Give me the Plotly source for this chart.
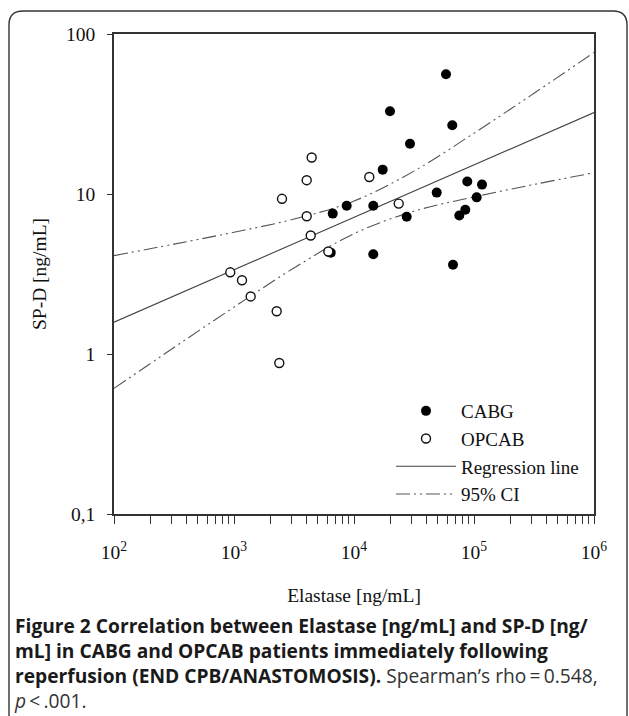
import plotly.graph_objects as go

# ---- data ----
cabg_elastase = [6400, 6650, 8690, 14480, 14480, 17340, 19950, 27490, 29290,
                 48880, 58440, 65930, 66830, 75440, 84630, 87900, 105300, 116600]
cabg_spd = [4.30, 7.54, 8.44, 8.44, 4.20, 14.2, 32.9, 7.20, 20.6,
            10.2, 56.0, 26.9, 3.61, 7.33, 7.97, 11.96, 9.53, 11.45]

opcab_elastase = [931, 1166, 1377, 2268, 2385, 2512, 4036, 4440, 4036,
                  4357, 6109, 13410, 23580]
opcab_spd = [3.24, 2.89, 2.29, 1.85, 0.879, 9.33, 12.2, 16.9, 7.26,
             5.50, 4.37, 12.77, 8.71]

reg_x = [100, 1000000]
reg_y = [1.58, 32.3]

ci_x = [100, 316, 1000, 3162, 10000, 31623, 100000, 316228, 1000000]
ci_upper = [4.12, 4.86, 5.77, 6.97, 9.04, 13.9, 24.0, 42.6, 76.7]
ci_lower = [0.610, 1.098, 1.963, 3.45, 5.65, 7.81, 9.59, 11.47, 13.58]

x_tickvals = [1e2, 1e3, 1e4, 1e5, 1e6]
x_ticktext = ["10<sup>2</sup>", "10<sup>3</sup>", "10<sup>4</sup>", "10<sup>5</sup>", "10<sup>6</sup>"]
y_tickvals = [0.1, 1, 10, 100]
y_ticktext = ["0,1", "1", "10", "100"]

# ---- layout geometry (pixels) ----
W, H = 629, 716
L, R, T, B = 114, 35, 34, 202
PW = W - L - R
PH = H - T - B


def px_x(px):
    return (px - L) / PW


def px_y(py):
    return (H - B - py) / PH


SERIF = "Liberation Serif, Times New Roman, serif"
SANS = "Open Sans, sans-serif"
FS = 19.5
DASH = "14px,4px,2px,4px,2px,4px"

fig = go.Figure()

fig.add_trace(go.Scatter(
    x=ci_x, y=ci_upper, mode="lines", name="95% CI", legendgroup="ci",
    line=dict(color="#555555", width=1.1, dash=DASH, shape="spline"),
    legendrank=4, showlegend=True))
fig.add_trace(go.Scatter(
    x=ci_x, y=ci_lower, mode="lines", name="95% CI", legendgroup="ci",
    line=dict(color="#555555", width=1.1, dash=DASH, shape="spline"),
    showlegend=False))
fig.add_trace(go.Scatter(
    x=reg_x, y=reg_y, mode="lines", name="Regression line",
    line=dict(color="#444444", width=1.1), legendrank=3))
fig.add_trace(go.Scatter(
    x=cabg_elastase, y=cabg_spd, mode="markers", name="CABG",
    marker=dict(symbol="circle", size=10, color="black", line=dict(width=0)),
    legendrank=1))
fig.add_trace(go.Scatter(
    x=opcab_elastase, y=opcab_spd, mode="markers", name="OPCAB",
    marker=dict(symbol="circle", size=9, color="white",
                line=dict(width=1.4, color="#111111")),
    legendrank=2))

axis_common = dict(
    showline=True, linecolor="#333333", linewidth=1.5, mirror=True,
    showgrid=False, zeroline=False, ticks="outside", tickcolor="#333333",
    tickwidth=1.2, tickfont=dict(family=SERIF, size=FS, color="#111111"),
)

fig.update_xaxes(
    type="log", range=[2, 6], tickmode="array", tickvals=x_tickvals,
    ticktext=x_ticktext, ticklen=8, ticklabelstandoff=12,
    minor=dict(dtick="D1", ticks="outside", ticklen=8, tickcolor="#333333",
               tickwidth=1.2, showgrid=False),
    title=dict(text="Elastase [ng/mL]", font=dict(family=SERIF, size=FS, color="#111111"),
               standoff=26),
    **axis_common)
fig.update_yaxes(
    type="log", range=[-1, 2], tickmode="array", tickvals=y_tickvals,
    ticktext=y_ticktext, ticklen=5, ticklabelstandoff=8,
    title=dict(text="SP-D [ng/mL]", font=dict(family=SERIF, size=FS, color="#111111"),
               standoff=14),
    **axis_common)

# outer rounded frame
r = 14
x0, x1, y0, y1 = 9, 627, 11, 740
path = (
    f"M {px_x(x0)},{px_y(y1)} "
    f"L {px_x(x0)},{px_y(y0 + r)} "
    f"Q {px_x(x0)},{px_y(y0)} {px_x(x0 + r)},{px_y(y0)} "
    f"L {px_x(x1 - r)},{px_y(y0)} "
    f"Q {px_x(x1)},{px_y(y0)} {px_x(x1)},{px_y(y0 + r)} "
    f"L {px_x(x1)},{px_y(y1)}"
)
fig.add_shape(type="path", path=path, xref="paper", yref="paper",
              line=dict(color="#333333", width=1.4), layer="below")

caption = (
    "<b>Figure 2 Correlation between Elastase [ng/mL] and SP-D [ng/</b><br>"
    "<b>mL] in CABG and OPCAB patients immediately following</b><br>"
    "<b>reperfusion (END CPB/ANASTOMOSIS).</b> "
    "<span style='color:#333333'>Spearman\u2019s rho\u2009=\u20090.548,</span><br>"
    "<span style='color:#333333'><i>p</i>\u2009<\u2009.001.</span>"
)
fig.add_annotation(text=caption, xref="paper", yref="paper", x=px_x(13), y=px_y(611),
                   xanchor="left", yanchor="top", align="left", showarrow=False,
                   borderpad=0, font=dict(family=SANS, size=19.2, color="#1a1a1a"))

fig.update_layout(
    width=W, height=H, margin=dict(l=L, r=R, t=T, b=B, autoexpand=False),
    paper_bgcolor="white", plot_bgcolor="white",
    showlegend=True,
    legend=dict(x=px_x(391), y=px_y(392), xanchor="left", yanchor="top",
                bgcolor="rgba(0,0,0,0)", borderwidth=0, itemwidth=60,
                font=dict(family=SERIF, size=19, color="#111111"),
                tracegroupgap=0, traceorder="normal"),
)

fig.write_html(
    "out.html",
    config={"displayModeBar": False},
    post_script="document.body.style.margin='0';document.body.style.overflow='hidden';"
                "document.documentElement.style.overflow='hidden';",
)
